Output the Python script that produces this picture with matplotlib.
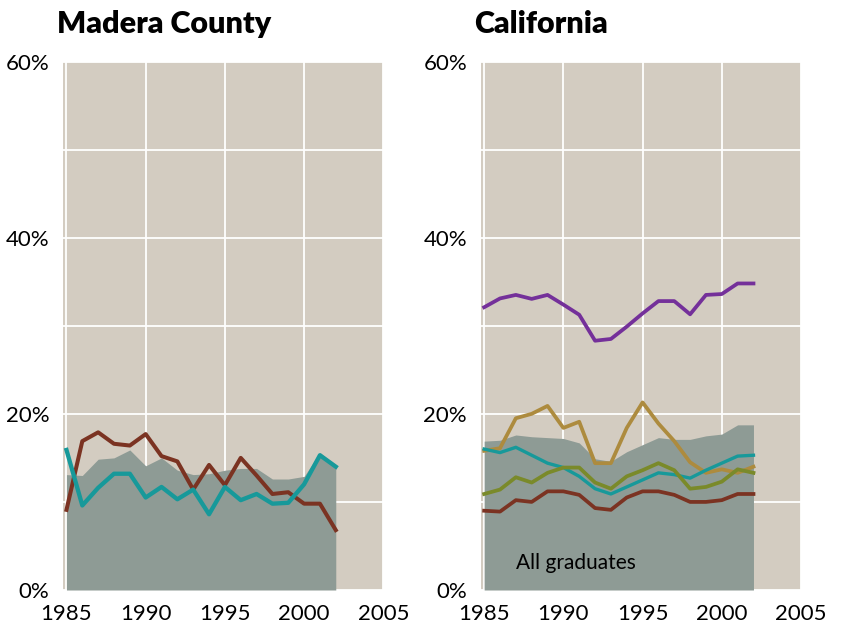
import matplotlib.pyplot as plt
import numpy as np

# data (percent)
years = list(range(1985, 2003))

madera_all = [13.1, 13.0, 14.85, 15.0, 15.9, 14.1, 15.0, 13.6, 13.1, 13.2,
              13.6, 13.8, 13.8, 12.6, 12.6, 12.9, 15.6, 14.1]
madera_brown = [9.1, 16.9, 17.9, 16.6, 16.4, 17.7, 15.2, 14.6, 11.4, 14.2,
                11.9, 15.0, 13.0, 10.9, 11.1, 9.8, 9.8, 6.8]
madera_teal = [15.9, 9.6, 11.6, 13.2, 13.2, 10.5, 11.7, 10.3, 11.4, 8.6,
               11.7, 10.2, 10.9, 9.8, 9.9, 12.0, 15.3, 14.0]

ca_all = [16.9, 17.0, 17.6, 17.4, 17.3, 17.2, 16.7, 14.9, 14.6, 15.7,
          16.5, 17.3, 17.1, 17.1, 17.5, 17.7, 18.75, 18.75]
ca_purple = [32.1, 33.1, 33.5, 33.05, 33.5, 32.4, 31.25, 28.3, 28.5, 29.9,
             31.4, 32.8, 32.8, 31.3, 33.5, 33.6, 34.8, 34.8]
ca_gold = [15.8, 16.1, 19.5, 20.0, 20.9, 18.4, 19.1, 14.4, 14.4, 18.4,
           21.3, 18.9, 16.9, 14.5, 13.3, 13.7, 13.3, 14.0]
ca_teal = [16.0, 15.6, 16.2, 15.3, 14.4, 13.9, 12.9, 11.5, 10.9, 11.7,
           12.5, 13.3, 13.1, 12.7, 13.6, 14.4, 15.2, 15.3]
ca_olive = [10.9, 11.4, 12.8, 12.2, 13.3, 13.9, 13.9, 12.2, 11.5, 12.9,
            13.6, 14.4, 13.6, 11.5, 11.7, 12.3, 13.7, 13.3]
ca_brown = [9.0, 8.9, 10.2, 10.0, 11.2, 11.2, 10.8, 9.3, 9.1, 10.5,
            11.2, 11.2, 10.8, 10.0, 10.0, 10.2, 10.9, 10.9]

xticks = [1985, 1990, 1995, 2000, 2005]
yticks = [0, 20, 40, 60]

BG = '#d3ccc1'
AREA = '#8e9b95'
BROWN = '#7b3322'
TEAL = '#17999a'
PURPLE = '#74309a'
GOLD = '#ad8b3e'
OLIVE = '#7a8a2a'

plt.rcParams['font.family'] = ['Lato', 'DejaVu Sans']

fig = plt.figure(figsize=(8.42, 6.32), dpi=100)
ax1 = fig.add_axes([63.3 / 842, 42 / 632, 320 / 842, 528.5 / 632])
ax2 = fig.add_axes([481 / 842, 42 / 632, 320 / 842, 528.5 / 632])


def style(ax, title, tx):
    ax.set_facecolor(BG)
    ax.set_xlim(1984.8, 2005)
    ax.set_ylim(0, 60)
    ax.set_xticks(xticks)
    ax.set_xticklabels([str(t) for t in xticks], fontsize=16)
    ax.set_yticks(yticks)
    ax.set_yticklabels([f'{t}%' for t in yticks], fontsize=16)
    ax.set_yticks([10, 30, 50], minor=True)
    ax.tick_params(axis='both', which='both', length=0)
    ax.tick_params(axis='y', pad=10)
    ax.tick_params(axis='x', pad=10)
    ax.grid(True, which='both', color='white', linewidth=1.3)
    ax.set_axisbelow(True)
    for s in ax.spines.values():
        s.set_visible(False)
    ax.text(tx, 1.054, title, transform=ax.transAxes, fontsize=22,
            fontweight='heavy', ha='left', va='baseline')


style(ax1, 'Madera County', -0.02)
ax1.fill_between(years, 0, madera_all, color=AREA, linewidth=0, zorder=2)
ax1.plot(years, madera_brown, color=BROWN, linewidth=2.9, zorder=3)
ax1.plot(years, madera_teal, color=TEAL, linewidth=3.1, zorder=3)

style(ax2, 'California', -0.022)
ax2.fill_between(years, 0, ca_all, color=AREA, linewidth=0, zorder=2)
ax2.plot(years, ca_purple, color=PURPLE, linewidth=2.7, zorder=3)
ax2.plot(years, ca_gold, color=GOLD, linewidth=2.7, zorder=3)
ax2.plot(years, ca_teal, color=TEAL, linewidth=2.4, zorder=3)
ax2.plot(years, ca_olive, color=OLIVE, linewidth=2.7, zorder=3)
ax2.plot(years, ca_brown, color=BROWN, linewidth=2.7, zorder=3)
ax2.text(1987, 3.1, 'All graduates', fontsize=15, ha='left', va='center', zorder=4)

fig.savefig('out.png', dpi=100)
